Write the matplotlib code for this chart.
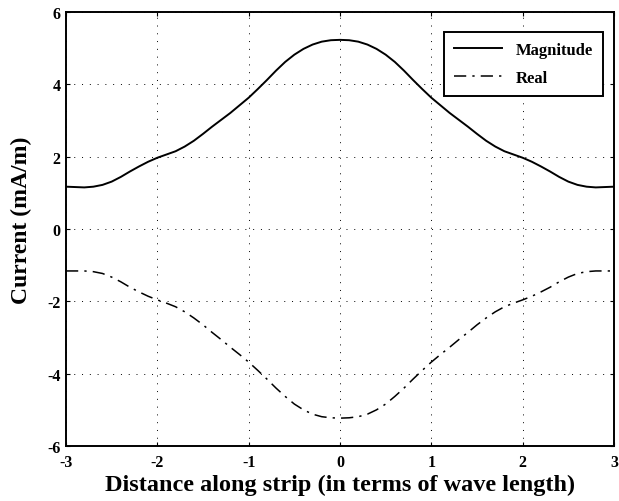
import numpy as np
import matplotlib.pyplot as plt

# distance along strip (wave lengths)
x = np.round(np.arange(-3.0, 3.01, 0.1), 1)

# magnitude of current (mA/m)
mag_left = [1.17, 1.16, 1.15, 1.17, 1.22, 1.31, 1.44, 1.59, 1.73, 1.86,
            1.97, 2.06, 2.15, 2.28, 2.44, 2.63, 2.83, 3.02, 3.21, 3.42,
            3.63, 3.87, 4.12, 4.38, 4.62, 4.82, 4.98, 5.10, 5.18, 5.22]
mag_peak = [5.23]
magnitude = mag_left + mag_peak + mag_left[::-1]

# real part (mA/m)
real_left = [-1.16, -1.16, -1.16, -1.18, -1.23, -1.33, -1.46, -1.61, -1.74, -1.86,
             -1.96, -2.05, -2.15, -2.29, -2.46, -2.65, -2.86, -3.06, -3.27, -3.47,
             -3.68, -3.91, -4.15, -4.40, -4.63, -4.84, -5.00, -5.12, -5.19, -5.22]
real_peak = [-5.23]
real = real_left + real_peak + real_left[::-1]

plt.rcParams['font.family'] = ['Liberation Serif', 'DejaVu Serif']
plt.rcParams['font.weight'] = 'bold'
plt.rcParams['axes.unicode_minus'] = False

fig = plt.figure(figsize=(6.19, 5.02), dpi=100)
ax = fig.add_axes([66 / 619, 55 / 502, 548 / 619, 434 / 502])

ax.plot(x, magnitude, color='black', lw=1.4, ls='-', label='Magnitude')
ax.plot(x, real, color='black', lw=1.1, ls=(0, (8, 4, 1.5, 4)), label='Real')

ax.set_xlim(-3, 3)
ax.set_ylim(-6, 6)
ax.set_xticks([-3, -2, -1, 0, 1, 2, 3])
ax.set_yticks([-6, -4, -2, 0, 2, 4, 6])
ax.grid(True, color='black', ls=(0, (1, 7)), lw=0.7)
ax.tick_params(direction='in', top=True, right=True, length=3, width=0.8,
               labelsize=11.5)
ax.tick_params(axis='x', pad=6)
ax.tick_params(axis='y', pad=4)
for lbl in ax.get_xticklabels() + ax.get_yticklabels():
    lbl.set_fontweight('bold')
for s in ax.spines.values():
    s.set_linewidth(1.4)

ax.set_xlabel('Distance along strip (in terms of wave length)', fontsize=17.5,
              fontweight='bold')
ax.xaxis.set_label_coords(0.5, -0.064)
ax.set_ylabel('Current (mA/m)', fontsize=17, fontweight='bold')
ax.yaxis.set_label_coords(-0.062, 0.523)

leg = ax.legend(loc='upper right', bbox_to_anchor=(0.98, 0.954), borderaxespad=0,
                fancybox=False, edgecolor='black', framealpha=1,
                prop={'weight': 'bold', 'size': 12},
                handlelength=2.9, borderpad=0.6, labelspacing=0.7)
leg.get_frame().set_linewidth(1.4)

fig.savefig('out.png', dpi=100)
